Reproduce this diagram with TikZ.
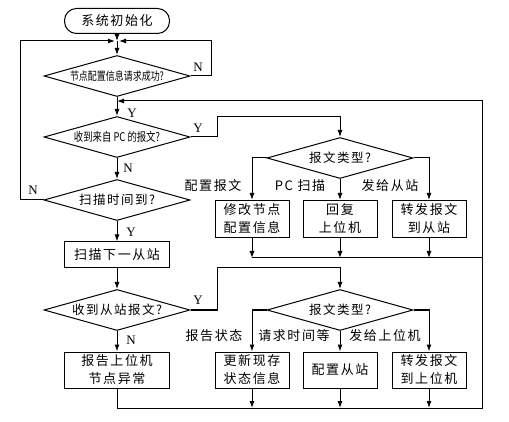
\documentclass[tikz,border=0pt]{standalone}
\usepackage{fontspec}
\setmainfont{Liberation Serif}
\newfontfamily\cjk{Noto Sans CJK SC}
\newfontfamily\cjkwide{Noto Sans CJK SC}[LetterSpace=12]
\newfontfamily\cjknarrow{Noto Sans CJK SC}[FakeStretch=0.78]
\usetikzlibrary{shapes.geometric, arrows.meta}

\begin{document}
\begin{tikzpicture}[x=1pt, y=-1pt, line width=1pt,
    >={Latex[length=7pt,width=5pt]},
    stepbox/.style={draw, rectangle, minimum width=74pt, minimum height=37pt,
        inner sep=1pt, align=center, font=\cjkwide\fontsize{13}{18}\selectfont},
    widebox/.style={stepbox, minimum width=105pt},
    decision/.style={draw, diamond, aspect=3.6, minimum width=146pt, minimum height=41pt,
        inner sep=0pt, font=\cjkwide\fontsize{12.5}{14}\selectfont},
    yesno/.style={font=\fontsize{13}{14}\selectfont},
    branch/.style={font=\cjkwide\fontsize{13}{14}\selectfont}]
    \useasboundingbox (0,0) rectangle (509,422);

    % Main column
    \node[draw, rounded corners=12pt, minimum width=105pt, minimum height=25pt,
        font=\cjkwide\fontsize{13}{14}\selectfont] (start) at (117,21) {系统初始化};
    \node[decision, font=\cjknarrow\fontsize{11.5}{12}\selectfont] (ask) at (117,76) {节点配置信息请求成功?};
    \node[decision, font=\cjknarrow\fontsize{12}{12}\selectfont] (pcmsg) at (117,137) {收到来自 PC 的报文?};
    \node[decision] (timer) at (117,200) {扫描时间到?};
    \node[widebox, minimum height=26pt] (scan) at (117,255) {扫描下一从站};
    \node[decision] (slvmsg) at (117,310) {收到从站报文?};
    \node[widebox, minimum height=36pt] (fault) at (117,370) {报告上位机\\节点异常};

    % PC message branch
    \node[decision] (pctype) at (340,158) {报文类型?};
    \node[stepbox] (setcfg) at (252,219) {修改节点\\配置信息};
    \node[stepbox] (reply) at (340,219) {回复\\上位机};
    \node[stepbox] (toslv) at (429,219) {转发报文\\到从站};

    % Slave message branch
    \node[decision] (slvtype) at (340,310) {报文类型?};
    \node[stepbox, minimum height=36pt] (update) at (252,370) {更新现存\\状态信息};
    \node[stepbox, minimum height=36pt] (cfgslv) at (340,370) {配置从站};
    \node[stepbox, minimum height=36pt] (topc) at (429,370) {转发报文\\到上位机};

    % Junctions
    \coordinate (join) at (117,41);
    \coordinate (back) at (117,101);
    \coordinate (mid) at (482,258);
    \coordinate (low) at (482,408);

    % Connectors
    \draw[->] (start) -- (join);
    \draw[->] (join) -- (ask);
    \draw[->, shorten >=2pt] (ask.east) -- ++(21,0) |- (join);
    \draw[->, shorten >=2pt] (timer.west) -- ++(-23,0) |- (join);
    \draw[->] (ask) -- (pcmsg);
    \draw[->] (pcmsg) -- (timer);
    \draw[->] (timer) -- (scan);
    \draw[->] (scan) -- (slvmsg);
    \draw[->] (slvmsg) -- (fault);
    \draw[->] (pcmsg.east) -- ++(27,0) |- (340,117) -- (pctype);
    \draw[->] (slvmsg.east) -- ++(27,0) |- (340,268) -- (slvtype);
    \draw[->] (pctype.west) -| (setcfg);
    \draw[->] (pctype) -- (reply);
    \draw[->] (pctype.east) -| (toslv);
    \draw[->] (slvtype.west) -| (update);
    \draw[->] (slvtype) -- (cfgslv);
    \draw[->] (slvtype.east) -| (topc);
    \foreach \b in {setcfg, reply, toslv}
        \draw[->] (\b) -- (\b |- mid);
    \foreach \b in {update, cfgslv, topc}
        \draw[->] (\b) -- (\b |- low);
    \draw (setcfg |- mid) -- (mid);
    \draw[->] (fault) |- (low) |- (back);

    % Labels
    \node[yesno] (n1) at (198,67) {N};
    \node[yesno] (y1) at (132,113) {Y};
    \node[yesno] (y2) at (198,128) {Y};
    \node[yesno] (n2) at (128,168) {N};
    \node[yesno] (n3) at (33,190) {N};
    \node[yesno] (y3) at (131,232) {Y};
    \node[yesno] (y5) at (198,300) {Y};
    \node[yesno] (n5) at (131,340) {N};
    \node[branch] (l1) at (213,186) {配置报文};
    \node[branch] (l2) at (300,186) {PC 扫描};
    \node[branch] (l3) at (390,186) {发给从站};
    \node[branch] (l4) at (214,336) {报告状态};
    \node[branch] (l5) at (294,336) {请求时间等};
    \node[branch] (l6) at (385,336) {发给上位机};
\end{tikzpicture}
\end{document}
